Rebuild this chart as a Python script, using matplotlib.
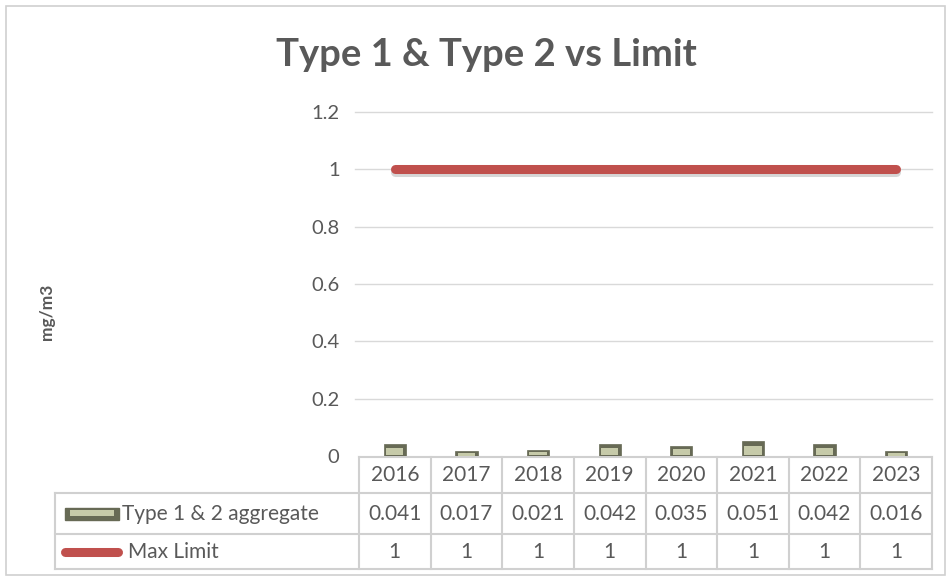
"""Type 1 & Type 2 vs Limit: columns + limit line with an Excel-style data table."""

import matplotlib.pyplot as plt
import matplotlib.patheffects as pe
from matplotlib.patches import Rectangle
from matplotlib.transforms import blended_transform_factory

years = ["2016", "2017", "2018", "2019", "2020", "2021", "2022", "2023"]
aggregate = [0.041, 0.017, 0.021, 0.042, 0.035, 0.051, 0.042, 0.016]
max_limit = [1, 1, 1, 1, 1, 1, 1, 1]
series_names = ["Type 1 & 2 aggregate", "Max Limit"]
yticks = [0, 0.2, 0.4, 0.6, 0.8, 1, 1.2]

W, H = 950, 579
TXT = "#595959"
GRID = "#d9d9d9"
TBL = "#d0d0d0"
RED = "#c0504d"
BAR_DARK = "#676a55"
BAR_LIGHT = "#c6caa9"


def main() -> None:
    plt.rcParams["font.family"] = ["Lato", "DejaVu Sans"]

    fig = plt.figure(figsize=(W / 100, H / 100), dpi=100)
    fig.patch.set_facecolor("white")

    # overlay in pixel coords (y down) for border and table grid
    ov = fig.add_axes([0, 0, 1, 1], zorder=0)
    ov.set_xlim(0, W)
    ov.set_ylim(H, 0)
    ov.axis("off")

    x0, x1, y0, y1 = 359, 932, 456, 112
    ax = fig.add_axes([x0 / W, 1 - y0 / H, (x1 - x0) / W, (y0 - y1) / H], zorder=2)
    ax.patch.set_alpha(0)

    xs = list(range(len(years)))
    ax.bar(xs, aggregate, width=0.31, color=BAR_DARK, edgecolor=BAR_DARK, linewidth=0.5, zorder=3)
    ax.bar(xs, [v * 0.6 for v in aggregate], bottom=[v * 0.1 for v in aggregate],
           width=0.24, color=BAR_LIGHT, linewidth=0, zorder=4)
    ax.plot(xs, max_limit, color=RED, linewidth=6.5, solid_capstyle="round", zorder=5,
            path_effects=[pe.SimpleLineShadow(offset=(0, -2), shadow_color="#999999", alpha=0.4),
                          pe.Normal()])

    ax.set_xlim(-0.5, len(years) - 0.5)
    ax.set_ylim(0, 1.2)
    ax.set_yticks(yticks)
    ax.set_yticklabels([f"{t:g}" for t in yticks], fontsize=14.5, color=TXT)
    ax.tick_params(axis="y", length=0, pad=14)
    ax.set_xticks([])
    for s in ax.spines.values():
        s.set_visible(False)
    for t in yticks[1:]:
        ax.plot([-0.55, len(years) - 0.5], [t, t], color=GRID, linewidth=1, zorder=1, clip_on=False)

    fig.text(486 / W, 1 - 55 / H, "Type 1 & Type 2 vs Limit", ha="center", va="center",
             fontsize=27.5, fontweight="bold", color=TXT)
    fig.text(47 / W, 1 - 312 / H, "mg/m3", rotation=90, ha="center", va="center",
             fontsize=12.5, fontweight="bold", color=TXT)

    # border of the chart
    ov.add_patch(Rectangle((6, 6), 939, 569, fill=False, edgecolor="#d0d0d0", linewidth=1.2))

    # data table grid
    r0, r1, r2, r3 = 457, 493, 534, 569
    lx = 55
    kw = dict(color=TBL, linewidth=1.5)
    ov.plot([x0, x1], [r0, r0], **kw)
    ov.plot([lx, x1], [r1, r1], **kw)
    ov.plot([lx, x1], [r2, r2], **kw)
    ov.plot([lx, x1], [r3, r3], **kw)
    ov.plot([lx, lx], [r1, r3], **kw)
    colw = (x1 - x0) / len(years)
    for i in range(len(years) + 1):
        ov.plot([x0 + i * colw] * 2, [r0, r3], **kw)

    tr = blended_transform_factory(ax.transData, ov.transData)
    for i, (yr, a, m) in enumerate(zip(years, aggregate, max_limit)):
        ax.text(i, (r0 + r1) / 2, yr, transform=tr, ha="center", va="center",
                fontsize=15, color=TXT, clip_on=False)
        ax.text(i, (r1 + r2) / 2, f"{a:.3f}", transform=tr, ha="center", va="center",
                fontsize=15, color=TXT, clip_on=False)
        ax.text(i, (r2 + r3) / 2, f"{m:g}", transform=tr, ha="center", va="center",
                fontsize=15, color=TXT, clip_on=False)

    # legend keys in the table
    ym1 = (r1 + r2) / 2
    ov.add_patch(Rectangle((65, ym1 - 6), 54, 12, facecolor=BAR_DARK, edgecolor=BAR_DARK))
    ov.add_patch(Rectangle((70, ym1 - 4), 44, 6, facecolor=BAR_LIGHT, linewidth=0))
    ov.text(122, ym1, series_names[0], ha="left", va="center", fontsize=15, color=TXT)
    ym2 = (r2 + r3) / 2
    ov.plot([65, 118], [ym2, ym2], color=RED, linewidth=6.5, solid_capstyle="round")
    ov.text(128, ym2, series_names[1], ha="left", va="center", fontsize=15, color=TXT)

    fig.savefig("out.png", dpi=100)
    plt.close(fig)


if __name__ == "__main__":
    main()
